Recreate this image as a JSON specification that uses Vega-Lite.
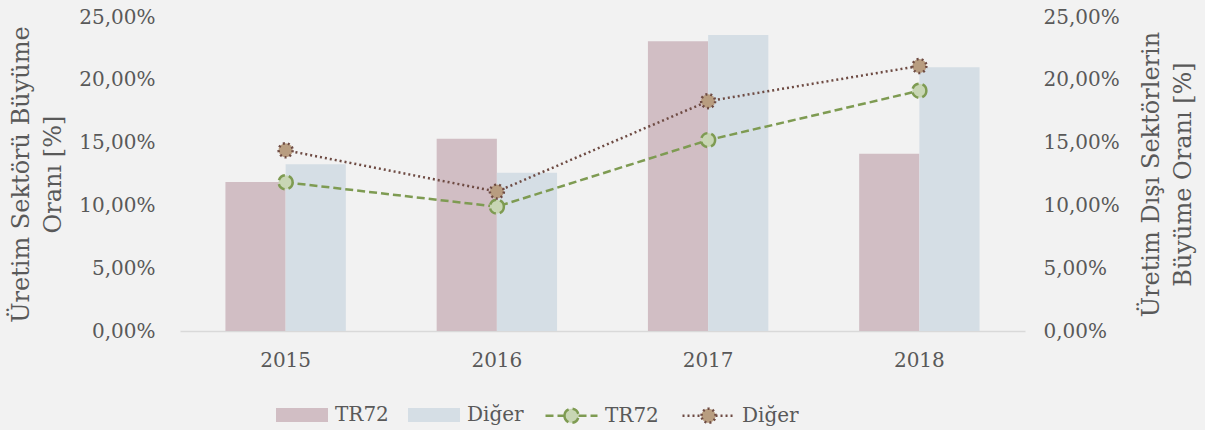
{
  "$schema": "https://vega.github.io/schema/vega-lite/v6.json",
  "width": 845,
  "height": 314,
  "autosize": "none",
  "padding": {"left": 180, "top": 17, "right": 180, "bottom": 99},
  "background": "#F2F2F2",
  "config": {
    "view": {"stroke": null},
    "font": "DejaVu Serif",
    "axis": {
      "labelFont": "DejaVu Serif",
      "titleFont": "DejaVu Serif",
      "labelFontSize": 20,
      "titleFontSize": 24,
      "labelColor": "#595959",
      "titleColor": "#595959",
      "titleFontWeight": "normal",
      "grid": false,
      "ticks": false
    },
    "legend": {
      "labelFont": "DejaVu Serif",
      "labelFontSize": 20,
      "labelColor": "#595959"
    }
  },
  "datasets": {
    "bars": [
      {"year": "2015", "series": "TR72", "value": 0.1186},
      {"year": "2016", "series": "TR72", "value": 0.1531},
      {"year": "2017", "series": "TR72", "value": 0.2306},
      {"year": "2018", "series": "TR72", "value": 0.1412},
      {"year": "2015", "series": "Diğer", "value": 0.1327},
      {"year": "2016", "series": "Diğer", "value": 0.126},
      {"year": "2017", "series": "Diğer", "value": 0.2357},
      {"year": "2018", "series": "Diğer", "value": 0.21}
    ],
    "lines": [
      {"year": "2015", "series": "TR72", "value": 0.1184},
      {"year": "2016", "series": "TR72", "value": 0.099},
      {"year": "2017", "series": "TR72", "value": 0.152},
      {"year": "2018", "series": "TR72", "value": 0.1913},
      {"year": "2015", "series": "Diğer", "value": 0.1439},
      {"year": "2016", "series": "Diğer", "value": 0.111},
      {"year": "2017", "series": "Diğer", "value": 0.183},
      {"year": "2018", "series": "Diğer", "value": 0.211}
    ]
  },
  "layer": [
    {
      "data": {"name": "bars"},
      "mark": {"type": "bar"},
      "encoding": {
        "x": {
          "field": "year", "type": "ordinal",
          "scale": {"paddingInner": 0.43, "paddingOuter": 0.215},
          "axis": {
            "title": null, "labelAngle": 0, "labelPadding": 19,
            "domain": true, "domainColor": "#D9D9D9", "domainWidth": 1.5
          }
        },
        "xOffset": {"field": "series", "type": "nominal", "sort": "descending"},
        "y": {
          "field": "value", "type": "quantitative",
          "scale": {"domain": [0, 0.25], "nice": false},
          "axis": {
            "orient": "left",
            "values": [0, 0.05, 0.1, 0.15, 0.2, 0.25],
            "labelExpr": "replace(format(datum.value, '.2%'), '.', ',')",
            "domain": false,
            "labelPadding": 25,
            "title": ["Üretim Sektörü Büyüme", "Oranı [%]"],
            "titlePadding": 13,
            "titleLineHeight": 32
          }
        },
        "color": {
          "field": "series", "type": "nominal", "sort": "descending",
          "scale": {"range": ["#D1BEC4", "#D5DEE5"]},
          "legend": {
            "title": null,
            "orient": "none",
            "direction": "horizontal",
            "legendX": 95,
            "legendY": 371,
            "symbolType": "M-1,-0.27H1V0.27H-1Z",
            "symbolSize": 2704,
            "labelOffset": 6,
            "columnPadding": 18
          }
        }
      }
    },
    {
      "data": {"name": "lines"},
      "mark": {"type": "line", "strokeWidth": 2.5},
      "encoding": {
        "x": {"field": "year", "type": "ordinal"},
        "y": {
          "field": "value", "type": "quantitative",
          "scale": {"domain": [0, 0.25], "nice": false},
          "axis": {
            "orient": "right",
            "values": [0, 0.05, 0.1, 0.15, 0.2, 0.25],
            "labelExpr": "replace(format(datum.value, '.2%'), '.', ',')",
            "domain": false,
            "labelPadding": 18,
            "title": ["Üretim Dışı Sektörlerin", "Büyüme Oranı [%]"],
            "titleAngle": -90,
            "titleBaseline": "top",
            "titlePadding": -12,
            "titleLineHeight": 32
          }
        },
        "stroke": {
          "field": "series", "type": "nominal", "sort": "descending",
          "scale": {"range": ["#7E9B52", "#6E4B43"]},
          "legend": {
            "title": null,
            "orient": "none",
            "direction": "horizontal",
            "legendX": 364,
            "legendY": 371,
            "symbolType": "M-1,0H-0.27M0.27,0H1M-0.27,0A0.27,0.27,0,1,1,0.27,0A0.27,0.27,0,1,1,-0.27,0Z",
            "symbolSize": 2704,
            "symbolStrokeWidth": 2.5,
            "labelOffset": 6,
            "columnPadding": 18,
            "encode": {
              "symbols": {
                "update": {
                  "fill": {"signal": "datum.value === 'TR72' ? '#C8D6B4' : '#B89D80'"},
                  "fillOpacity": {"value": 1}
                }
              }
            }
          }
        },
        "strokeDash": {
          "field": "series", "type": "nominal", "sort": "descending",
          "scale": {"range": [[8, 4], [2, 3]]},
          "legend": {
            "title": null,
            "orient": "none",
            "direction": "horizontal",
            "legendX": 364,
            "legendY": 371
          }
        }
      }
    },
    {
      "data": {"name": "lines"},
      "mark": {"type": "point", "shape": "circle", "filled": true, "size": 196, "strokeWidth": 2.5, "opacity": 1},
      "encoding": {
        "x": {"field": "year", "type": "ordinal"},
        "y": {
          "field": "value", "type": "quantitative",
          "scale": {"domain": [0, 0.25], "nice": false},
          "axis": null
        },
        "fill": {
          "field": "series", "type": "nominal", "sort": "descending",
          "scale": {"range": ["#C8D6B4", "#B89D80"]},
          "legend": null
        },
        "stroke": {
          "field": "series", "type": "nominal", "sort": "descending",
          "legend": null
        },
        "strokeDash": {
          "field": "series", "type": "nominal", "sort": "descending",
          "legend": null
        }
      }
    }
  ],
  "resolve": {"scale": {"y": "independent"}}
}
